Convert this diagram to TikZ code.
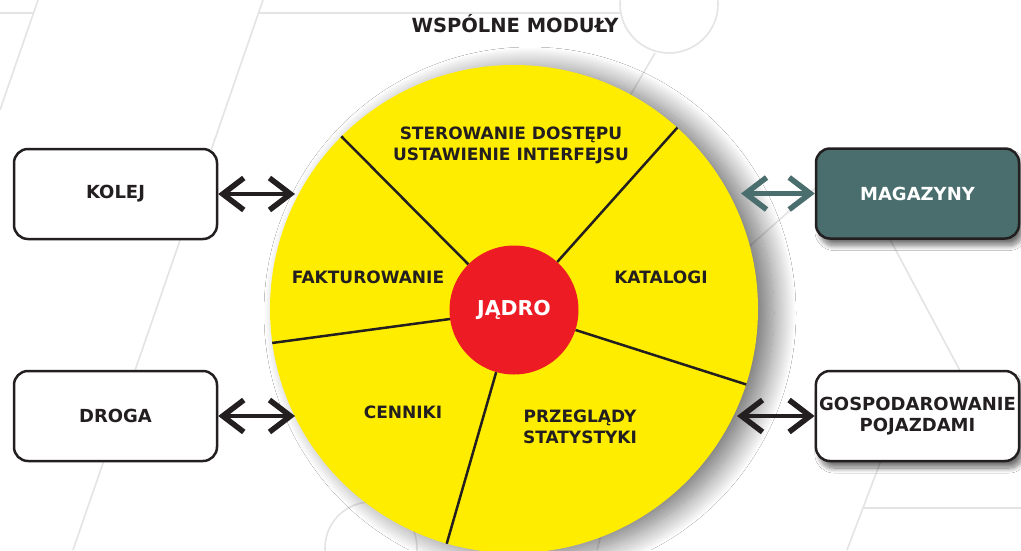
\documentclass[tikz,border=0pt]{standalone}
\usepackage{fontspec}
\setmainfont{DejaVu Sans}
\usetikzlibrary{arrows.meta,shadows.blur}

\definecolor{zolty}{RGB}{255,237,0}
\definecolor{czerwony}{RGB}{237,28,36}
\definecolor{morski}{RGB}{74,110,109}
\definecolor{ciemny}{RGB}{35,31,32}
\definecolor{tlo}{RGB}{228,228,228}

\begin{document}
\begin{tikzpicture}[x=1pt,y=-1pt,
  every node/.style={align=center, text=ciemny, font=\bfseries\fontsize{17}{21}\selectfont},
  box/.style={rounded corners=14pt, draw=ciemny, line width=2.5pt, fill=white,
    minimum width=203pt, minimum height=90pt, font=\bfseries\fontsize{18}{21}\selectfont},
  cienbox/.style={blur shadow={shadow xshift=4pt, shadow yshift=-7pt,
    shadow blur radius=5pt, shadow blur steps=12, shadow opacity=55}},
  sektor/.style={line width=2.5pt, draw=ciemny},
  grot/.tip={Straight Barb[length=21pt,width=32pt,line width=5.5pt]},
  link/.style={grot-grot, line width=4.5pt, draw=ciemny},
  wzor/.style={draw=tlo, line width=1.6pt}]

% Frame of the picture
\useasboundingbox (0,0) rectangle (1021,550);
\clip (0,0) rectangle (1021,550);

% Background pattern
\fill[white] (0,0) rectangle (1021,550);
\draw[wzor] (38,0) -- (0,110);
\draw[wzor] (0,13) -- (33,13);
\draw[wzor] (263,0) -- (73,550);
\draw[wzor] (259,13) -- (620,13);
\draw[wzor] (669,4) circle (49pt);
\draw[wzor] (655,53) -- (610,130);
\draw[wzor] (700,290) -- (830,175);
\draw[wzor] (885,230) -- (965,380);
\draw[wzor] (885,450) -- (847,550);
\draw[wzor] (863,508) -- (1021,508);
\draw[wzor] (371,548) circle (46pt);
\draw[wzor] (605,520) -- (597,550);

% Title
\node[font=\bfseries\fontsize{19.5}{23}\selectfont] (wspolne) at (515,24) {WSPÓLNE MODUŁY};

% Circle of modules with the core in the middle
\node[circle, fill=zolty, minimum size=488pt,
  blur shadow={shadow xshift=16pt, shadow yshift=-4pt, shadow blur radius=22pt,
    shadow blur steps=24, shadow opacity=55}]
  (kolo) at (514,309) {};
\node[circle, fill=czerwony, minimum size=129pt, text=white,
  font=\bfseries\fontsize{20.5}{24}\selectfont] (jadro) at (514,310) {JĄDRO};
\foreach \kat in {48,135,188,254,342}
  \draw[sektor] (jadro.\kat) -- (kolo.\kat);

\node (sterowanie) at (511,145) {STEROWANIE DOSTĘPU\\USTAWIENIE INTERFEJSU};
\node (fakturowanie) at (368,277) {FAKTUROWANIE};
\node (katalogi) at (661,277) {KATALOGI};
\node (cenniki) at (403,412) {CENNIKI};
\node (przeglady) at (580,427) {PRZEGLĄDY\\STATYSTYKI};

% Outer systems
\node[box] (kolej) at (115.5,194) {KOLEJ};
\node[box] (droga) at (115.5,416) {DROGA};
\node[box, cienbox, fill=morski, text=white] (magazyny) at (917.5,193.5) {MAGAZYNY};
\node[box, cienbox] (pojazdy) at (917.5,416) {GOSPODAROWANIE\\POJAZDAMI};

% Arrows between systems and the circle
\coordinate (kolejK) at (295,194);
\coordinate (drogaK) at (295,416);
\coordinate (magazynyK) at (741,193.5);
\coordinate (pojazdyK) at (737,416);
\draw[link] (kolej) -- (kolejK);
\draw[link] (droga) -- (drogaK);
\draw[link, draw=morski] (magazyny) -- (magazynyK);
\draw[link] (pojazdy) -- (pojazdyK);

\end{tikzpicture}
\end{document}
